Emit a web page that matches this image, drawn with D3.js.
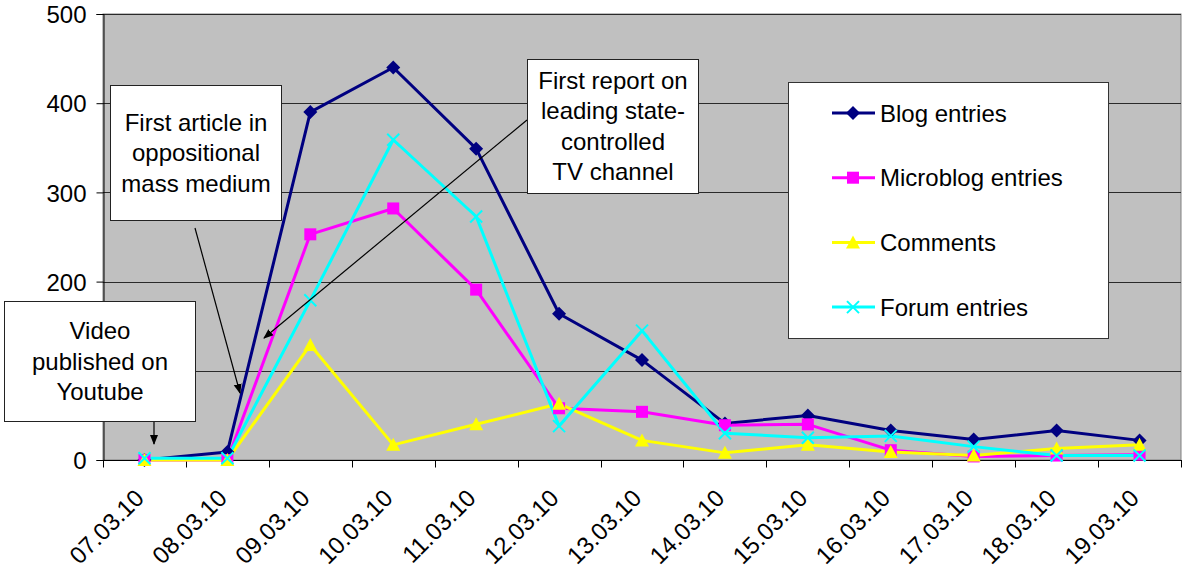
<!DOCTYPE html>
<html lang="en">
  <head>
    <meta charset="utf-8">
    <title>Blog, microblog, comment and forum entries</title>
    <style>
      body { margin: 0; background: #fff; }
      svg { display: block; }
      text { font-family: 'Liberation Sans', Arial, sans-serif; font-size: 24px; fill: #000; }
    </style>
  </head>
  <body>
    <div id="viz"></div>
    <script src="https://d3js.org/d3.v7.min.js"></script>
    <script>
      const dates = ["07.03.10","08.03.10","09.03.10","10.03.10","11.03.10","12.03.10","13.03.10",
                     "14.03.10","15.03.10","16.03.10","17.03.10","18.03.10","19.03.10"];
      const blogEntries = [0, 9, 390, 440, 349, 164, 112, 41, 50, 33, 23, 33, 22];
      const microblogEntries = [0, 0, 253, 282, 191, 58, 54, 39, 40, 11, 4, 5, 6];
      const comments = [0, 0, 129, 17, 40, 63, 22, 8, 17, 9, 5, 13, 17];
      const forumEntries = [2, 2, 179, 359, 273, 38, 145, 30, 25, 27, 15, 5, 5];
      const yTicks = [0, 100, 200, 300, 400, 500];

      const series = [
        { name: "Blog entries", values: blogEntries, color: "#000080", marker: "diamond" },
        { name: "Microblog entries", values: microblogEntries, color: "#ff00ff", marker: "square" },
        { name: "Comments", values: comments, color: "#ffff00", marker: "triangle" },
        { name: "Forum entries", values: forumEntries, color: "#00ffff", marker: "x" }
      ];

      const W = 1183, H = 571;
      const plot = { left: 103, right: 1181, top: 14, bottom: 460 };

      const svg = d3.select("#viz").append("svg").attr("width", W).attr("height", H);

      const defs = svg.append("defs");
      defs.append("marker")
        .attr("id", "arrow")
        .attr("viewBox", "0 0 10 10")
        .attr("refX", 9).attr("refY", 5)
        .attr("markerWidth", 10).attr("markerHeight", 10)
        .attr("markerUnits", "userSpaceOnUse")
        .attr("orient", "auto")
        .append("path").attr("d", "M0,1 L10,5 L0,9 Z").attr("fill", "#000");

      const x = d3.scaleBand().domain(dates).range([plot.left, plot.right]).paddingInner(0).paddingOuter(0);
      const y = d3.scaleLinear().domain([0, 500]).range([plot.bottom, plot.top]);
      const cx = d => x(d) + x.bandwidth() / 2;

      // plot area
      svg.append("rect")
        .attr("x", plot.left).attr("y", plot.top)
        .attr("width", plot.right - plot.left).attr("height", plot.bottom - plot.top)
        .attr("fill", "#c0c0c0").attr("stroke", "#808080").attr("stroke-width", 1);

      // gridlines
      svg.append("g").selectAll("line")
        .data(yTicks.filter(t => t > 0))
        .join("line")
        .attr("x1", plot.left).attr("x2", plot.right)
        .attr("y1", d => Math.round(y(d)) + 0.5).attr("y2", d => Math.round(y(d)) + 0.5)
        .attr("stroke", "#2a2a2a").attr("stroke-width", 1);

      // y axis
      const yAxis = svg.append("g")
        .attr("transform", `translate(${plot.left + 0.5},0)`)
        .call(d3.axisLeft(y).tickValues(yTicks).tickSize(7).tickPadding(10).tickFormat(d3.format("d")));
      yAxis.selectAll("text").style("font-size", "24px").attr("fill", "#000").attr("dy", "0.36em");
      yAxis.selectAll("line, path").attr("stroke", "#000");

      // x axis
      const xAxis = svg.append("g")
        .attr("transform", `translate(0,${plot.bottom + 0.5})`);
      xAxis.append("line")
        .attr("x1", plot.left).attr("x2", plot.right + 1)
        .attr("stroke", "#000");
      xAxis.selectAll(".tick-mark")
        .data(d3.range(dates.length + 1))
        .join("line")
        .attr("class", "tick-mark")
        .attr("x1", i => Math.round(plot.left + i * x.step()) + 0.5)
        .attr("x2", i => Math.round(plot.left + i * x.step()) + 0.5)
        .attr("y1", 0).attr("y2", 7)
        .attr("stroke", "#000");
      xAxis.selectAll(".lbl")
        .data(dates)
        .join("text")
        .attr("class", "lbl")
        .attr("text-anchor", "end")
        .attr("transform", d => `translate(${cx(d) + 1},${39}) rotate(-45)`)
        .text(d => d);

      // series lines
      const line = d3.line().x((v, i) => cx(dates[i])).y(v => y(v));
      series.forEach(s => {
        svg.append("path")
          .datum(s.values)
          .attr("d", line)
          .attr("fill", "none")
          .attr("stroke", s.color)
          .attr("stroke-width", 3)
          .attr("stroke-linejoin", "round");
      });

      function drawMarker(g, type, color) {
        if (type === "diamond") {
          g.append("path").attr("d", "M0,-7 L7,0 L0,7 L-7,0 Z").attr("fill", color);
        } else if (type === "square") {
          g.append("rect").attr("x", -6).attr("y", -6).attr("width", 12).attr("height", 12).attr("fill", color);
        } else if (type === "triangle") {
          g.append("path").attr("d", "M0,-7 L7,6 L-7,6 Z").attr("fill", color);
        } else {
          g.append("path").attr("d", "M-6,-6 L6,6 M-6,6 L6,-6")
            .attr("stroke", color).attr("stroke-width", 2).attr("fill", "none");
        }
      }

      series.forEach(s => {
        s.values.forEach((v, i) => {
          const g = svg.append("g").attr("transform", `translate(${cx(dates[i])},${y(v)})`);
          drawMarker(g, s.marker, s.color);
        });
      });

      // legend
      const legend = svg.append("g");
      legend.append("rect")
        .attr("x", 788.5).attr("y", 82.5).attr("width", 320).attr("height", 256)
        .attr("fill", "#fff").attr("stroke", "#333").attr("stroke-width", 1);
      series.forEach((s, i) => {
        const ly = 113 + i * 64.7;
        const g = legend.append("g").attr("transform", `translate(0,${ly})`);
        g.append("line").attr("x1", 832).attr("x2", 875).attr("stroke", s.color).attr("stroke-width", 3);
        drawMarker(g.append("g").attr("transform", "translate(853,0)"), s.marker, s.color);
        g.append("text").attr("x", 880).attr("dy", "0.36em").text(s.name);
      });

      // annotations
      const notes = [
        { lines: ["First article in", "oppositional", "mass medium"], x: 110, y: 85, w: 171, h: 135,
          from: [195, 228], to: [240, 393] },
        { lines: ["Video", "published on", "Youtube"], x: 4, y: 301, w: 191, h: 120,
          from: [154, 421], to: [154, 444] },
        { lines: ["First report on", "leading state-", "controlled", "TV channel"], x: 527, y: 59, w: 171, h: 134,
          from: [527, 120], to: [264, 338] }
      ];
      notes.forEach(n => {
        svg.append("line")
          .attr("x1", n.from[0]).attr("y1", n.from[1])
          .attr("x2", n.to[0]).attr("y2", n.to[1])
          .attr("stroke", "#000").attr("stroke-width", 1.2)
          .attr("marker-end", "url(#arrow)");
        svg.append("rect")
          .attr("x", n.x + 0.5).attr("y", n.y + 0.5).attr("width", n.w).attr("height", n.h)
          .attr("fill", "#fff").attr("stroke", "#222").attr("stroke-width", 1);
        const lh = 30.5;
        const top = n.y + n.h / 2 - (n.lines.length - 1) * lh / 2;
        n.lines.forEach((t, i) => {
          svg.append("text")
            .attr("x", n.x + n.w / 2 + 0.5)
            .attr("y", top + i * lh)
            .attr("dy", "0.36em")
            .attr("text-anchor", "middle")
            .text(t);
        });
      });
    </script>
  </body>
</html>
